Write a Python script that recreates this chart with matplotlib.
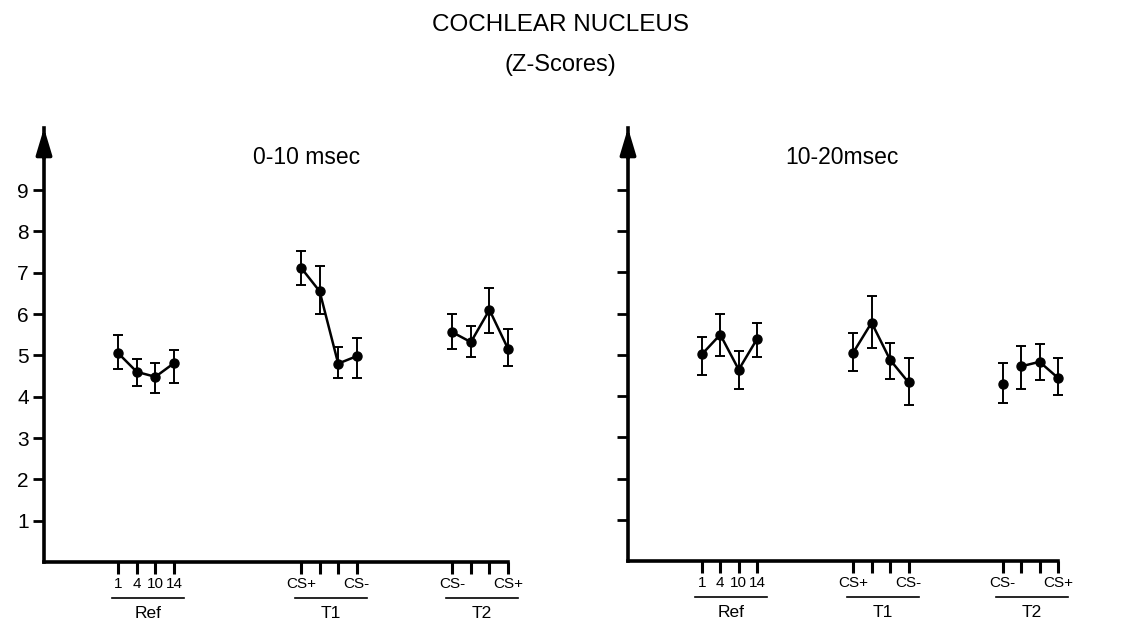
import matplotlib
matplotlib.use("Agg")
import matplotlib.pyplot as plt
import matplotlib.transforms as mtransforms
import numpy as np

plt.rcParams['font.family'] = ['Liberation Sans', 'DejaVu Sans']

# ---------------- data ----------------
groups = ["Ref", "T1", "T2"]
tick_labels = ["1", "4", "10", "14",
               "CS+", "", "", "CS-",
               "CS-", "", "", "CS+"]

# 0-10 msec panel
early_mean = [5.05, 4.60, 4.48, 4.81,
              7.12, 6.55, 4.80, 4.98,
              5.56, 5.32, 6.10, 5.16]
early_upper = [5.50, 4.90, 4.81, 5.14,
               7.52, 7.16, 5.20, 5.43,
               6.00, 5.72, 6.63, 5.64]
early_lower = [4.67, 4.27, 4.10, 4.32,
               6.71, 6.00, 4.44, 4.45,
               5.16, 4.96, 5.55, 4.73]
early_segments = [[0, 1, 2, 3], [4, 5, 6, 7], [8, 9, 10, 11]]

# 10-20 msec panel
late_mean = [5.01, 5.49, 4.64, 5.39,
             5.05, 5.78, 4.88, 4.33,
             4.29, 4.72, 4.83, 4.44]
late_upper = [5.43, 5.98, 5.09, 5.78,
              5.54, 6.42, 5.29, 4.92,
              4.81, 5.21, 5.27, 4.93]
late_lower = [4.52, 4.97, 4.16, 4.95,
              4.61, 5.17, 4.42, 3.78,
              3.83, 4.16, 4.40, 4.02]
late_segments = [[0, 1, 2, 3], [4, 5, 6, 7], [9, 10, 11]]

y_ticks = [1, 2, 3, 4, 5, 6, 7, 8, 9]

# ---------------- layout ----------------
early_pos = [4, 5, 6, 7, 13.85, 14.85, 15.85, 16.85, 22, 23, 24, 25]
late_pos = [4, 5, 6, 7, 12.2, 13.2, 14.2, 15.2, 20.3, 21.3, 22.3, 23.3]

W, H = 1121, 621
fig = plt.figure(figsize=(W / 100, H / 100), dpi=100)

ax1 = fig.add_axes([44 / W, 1 - 562 / H, 464 / W, 434 / H])
ax2 = fig.add_axes([628 / W, 1 - 561 / H, 430 / W, 433 / H])


def draw_panel(ax, pos, mean, upper, lower, segments, xmax, title, title_x, show_ylabels):
    pos = np.asarray(pos, float)
    mean = np.asarray(mean, float)
    err = np.vstack([mean - np.asarray(lower), np.asarray(upper) - mean])
    for seg in segments:
        ax.plot(pos[seg], mean[seg], color='black', lw=1.8, zorder=2,
                clip_on=False)
    eb = ax.errorbar(pos, mean, yerr=err, fmt='o', color='black', ms=6.5,
                     elinewidth=1.4, capsize=3.5, capthick=1.4, zorder=3)
    for art in eb.get_children():
        art.set_clip_on(False)
    ax.set_xlim(0, xmax)
    ax.set_ylim(0, 10.5)
    for s in ['top', 'right']:
        ax.spines[s].set_visible(False)
    for s in ['left', 'bottom']:
        ax.spines[s].set_linewidth(2.6)
    ax.set_yticks(y_ticks)
    if show_ylabels:
        ax.set_yticklabels([str(v) for v in y_ticks], fontsize=15)
    else:
        ax.set_yticklabels([])
    ax.tick_params(axis='y', direction='out', length=8, width=2, pad=3)
    ax.set_xticks(pos)
    ax.set_xticklabels(tick_labels, fontsize=11)
    ax.tick_params(axis='x', direction='out', length=8.5, width=2.2, pad=2)
    # arrow on y axis
    ax.annotate('', xy=(0, 1.0), xycoords='axes fraction',
                xytext=(0, 0.93), textcoords='axes fraction',
                arrowprops=dict(arrowstyle='-|>,head_length=0.8,head_width=0.24',
                                mutation_scale=20, color='black', lw=2.6,
                                shrinkA=0, shrinkB=0),
                annotation_clip=False)
    # group underlines and labels
    trans = mtransforms.blended_transform_factory(ax.transData, ax.transAxes)
    for gi, g in enumerate(groups):
        gp = pos[gi * 4:(gi + 1) * 4]
        c = gp.mean() + 0.1
        ax.plot([c - 1.95, c + 1.95], [-0.083, -0.083], transform=trans,
                color='black', lw=1.2, clip_on=False)
        ax.text(c, -0.118, g, transform=trans, ha='center', va='center',
                fontsize=12.5)
    ax.text(title_x, 0.933, title, transform=ax.transAxes, ha='center',
            va='center', fontsize=16.5)


draw_panel(ax1, early_pos, early_mean, early_upper, early_lower,
           early_segments, 25, "0-10 msec", 0.565, True)
draw_panel(ax2, late_pos, late_mean, late_upper, late_lower,
           late_segments, 23.3, "10-20msec", 0.498, False)

fig.text(0.4996, 1 - 25 / H, "COCHLEAR NUCLEUS", ha='center', va='center',
         fontsize=17.5)
fig.text(0.4996, 1 - 65 / H, "(Z-Scores)", ha='center', va='center',
         fontsize=17)

fig.savefig("out.png", dpi=100)
